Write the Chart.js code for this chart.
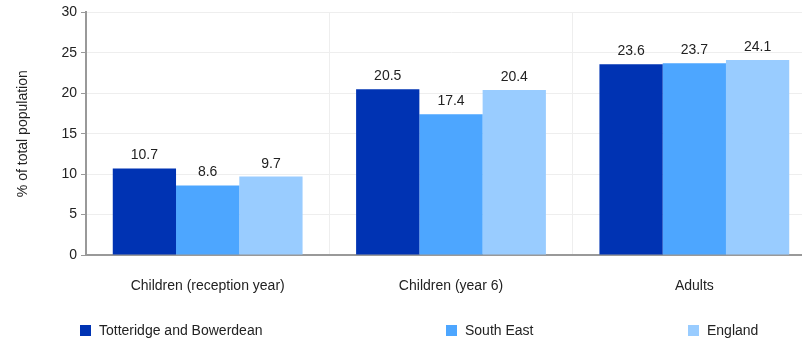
<!DOCTYPE html>
<html>
<head>
<meta charset="utf-8">
<script src="https://cdn.jsdelivr.net/npm/chart.js@4.4.0/dist/chart.umd.min.js"></script>
<style>
  html, body { margin: 0; padding: 0; background: #fff; overflow: hidden; }
  #wrap { position: relative; width: 802px; height: 341px; overflow: hidden; }
  #box { position: absolute; left: 0; top: 0; width: 816px; height: 341px; }
  .leg { position: absolute; top: 322px; font: 14px "Liberation Sans", Arial, sans-serif; color: #222; white-space: nowrap; }
  .leg span { display: inline-block; width: 11px; height: 11px; margin-right: 8px; vertical-align: -1px; }
</style>
</head>
<body>
<div id="wrap">
  <div id="box"><canvas id="chart"></canvas></div>
  <div id="legend"></div>
</div>
<script>
// ================================
// DATA
// ================================
const categories = ["Children (reception year)", "Children (year 6)", "Adults"];
const seriesNames = ["Totteridge and Bowerdean", "South East", "England"];
const totteridge = [10.7, 20.5, 23.6];
const southEast = [8.6, 17.4, 23.7];
const england = [9.7, 20.4, 24.1];
const yTicks = [0, 5, 10, 15, 20, 25, 30];

const colours = ["#0033b3", "#4da6ff", "#99ccff"];
const FONT = '"Liberation Sans", Arial, sans-serif';

// ================================
// VALUE LABELS ABOVE BARS
// ================================
const valueLabels = {
    id: "valueLabels",
    afterDatasetsDraw(chart) {
        const ctx = chart.ctx;
        ctx.save();
        ctx.font = "14px " + FONT;
        ctx.fillStyle = "#222";
        ctx.textAlign = "center";
        ctx.textBaseline = "alphabetic";
        chart.data.datasets.forEach((ds, i) => {
            chart.getDatasetMeta(i).data.forEach((bar, j) => {
                ctx.fillText(ds.data[j].toFixed(1), bar.x, bar.y - 9);
            });
        });
        ctx.restore();
    }
};

// ================================
// HTML LEGEND
// ================================
const legendX = [80, 446, 688];
const legend = document.getElementById("legend");
seriesNames.forEach((name, i) => {
    const d = document.createElement("div");
    d.className = "leg";
    d.style.left = legendX[i] + "px";
    d.innerHTML = '<span style="background:' + colours[i] + '"></span>' + name;
    legend.appendChild(d);
});

// ================================
// PLOT BAR CHART
// ================================
const ctx = document.getElementById("chart").getContext("2d");
new Chart(ctx, {
    type: "bar",
    data: {
        labels: categories,
        datasets: [totteridge, southEast, england].map((vals, i) => ({
            label: seriesNames[i],
            data: vals,
            backgroundColor: colours[i],
            borderWidth: 0,
            categoryPercentage: 0.78,
            barPercentage: 1
        }))
    },
    options: {
        responsive: true,
        maintainAspectRatio: false,
        animation: false,
        layout: { padding: { top: 4, right: 0, left: 0, bottom: 0 } },
        plugins: {
            legend: { display: false },
            tooltip: { enabled: false }
        },
        scales: {
            x: {
                grid: { offset: true, color: "#eeeeee", drawTicks: false },
                border: { color: "#999", width: 2 },
                ticks: { color: "#222", font: { family: FONT, size: 14 }, padding: 23, maxRotation: 0 },
                afterFit(scale) { scale.height = 86; }
            },
            y: {
                min: 0,
                max: 30,
                afterBuildTicks(scale) { scale.ticks = yTicks.map(v => ({ value: v })); },
                grid: { color: "#eeeeee", tickColor: "#999", tickLength: 5 },
                border: { color: "#999", width: 2 },
                ticks: { color: "#222", font: { family: FONT, size: 14 }, padding: 4 },
                title: {
                    display: true,
                    text: "% of total population",
                    color: "#222",
                    font: { family: FONT, size: 14 },
                    padding: { top: 15, bottom: 0 }
                },
                afterFit(scale) { scale.width = 86; }
            }
        }
    },
    plugins: [valueLabels]
});
</script>
</body>
</html>
